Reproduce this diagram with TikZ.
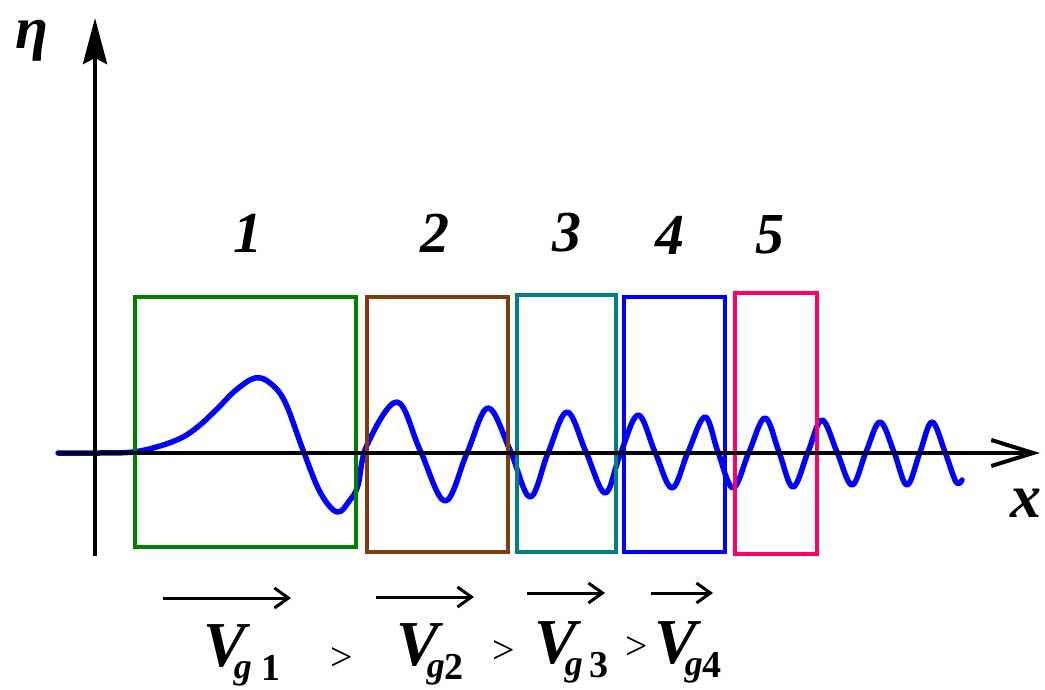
\documentclass[tikz,border=0pt]{standalone}
\usepackage{fontspec}
\setmainfont{Liberation Serif}
\usetikzlibrary{arrows.meta}
\definecolor{cgreen}{RGB}{0,128,0}
\definecolor{cbrown}{RGB}{128,60,10}
\definecolor{cteal}{RGB}{0,128,128}
\definecolor{cblue}{RGB}{0,0,255}
\definecolor{cpink}{RGB}{255,0,102}
\newcommand{\Vlab}[2]{{\fontsize{64}{64}\selectfont V}\kern-12pt\raisebox{-12pt}{\fontsize{36}{36}\selectfont g}\kern#2\raisebox{-14pt}{\fontsize{38}{38}\selectfont\upshape #1}}
\begin{document}
\begin{tikzpicture}[x=1pt,y=-1pt,
  box/.style={draw=#1, line width=4pt, inner sep=0pt, fill=none},
  num/.style={inner sep=0pt, font=\fontsize{58}{58}\selectfont\bfseries\itshape},
  vlab/.style={inner sep=0pt, anchor=base west, font=\bfseries\itshape},
  gt/.style={inner sep=0pt, font=\fontsize{40}{40}\selectfont},
  axis/.style={line width=4pt, black},
  varrow/.style={line width=3pt, -{Straight Barb[length=14pt,width=20pt,line width=3pt]}},
  wave/.style={line width=5.5pt, cblue, line join=round, line cap=round}]
\useasboundingbox (0,0) rectangle (1045,690);

% wave
\draw[wave] plot[smooth, tension=0.6] coordinates {
(58,453) (100,453) (133,452) (160,446) (183,437) (200,425) (218,408) (236,390) (255,378)
(270,383) (285,402) (303,450) (320,492) (337,512) (350,500) (358,485) (367,445) (397,402)
(420,450) (445,501) (467,453)
(488,408) (510,450) (530,497) (548,453) (567,412) (586,452) (605,493) (620,455)
(638,415) (655,452) (672,488) (688,452) (705,417) (718,452) (733,488) (749,452)
(765,418) (779,452) (793,487) (808,452) (822,420) (837,452) (852,485) (866,452)
(880,422) (894,452) (907,485) (920,452) (932,422) (945,452) (956,482) (962,480)};

% boxes
\node[box=cgreen, minimum width=221pt, minimum height=250pt] (b1) at (245.5,422) {};
\node[box=cbrown, minimum width=141pt, minimum height=255pt] (b2) at (437.5,424.5) {};
\node[box=cteal,  minimum width=99pt,  minimum height=257pt] (b3) at (566.5,423.5) {};
\node[box=cblue,  minimum width=101pt, minimum height=255pt] (b4) at (674.5,424.5) {};
\node[box=cpink,  minimum width=82pt,  minimum height=261pt] (b5) at (776,423.5) {};

% axes
\coordinate (xs) at (58,453);
\coordinate (xe) at (1040,453);
\coordinate (ys) at (95,556);
\coordinate (ye) at (95,18);
\draw[axis, -{Straight Barb[length=42pt,width=26pt,line width=4pt]}] (xs) -- (xe);
\draw[axis, line width=4.5pt, -{Stealth[length=46pt,width=24pt,inset=6pt]}] (ys) -- (ye);
\node[inner sep=0pt, anchor=base, font=\fontsize{60}{60}\selectfont\bfseries\itshape] (eta) at (32,49) {η};
\node[inner sep=0pt, anchor=base, font=\fontsize{62}{62}\selectfont\bfseries\itshape] (xl) at (1026,517) {x};

% numbers
\node[num] (n1) at (248,233) {1};
\node[num] (n2) at (435,233) {2};
\node[num] (n3) at (567,233) {3};
\node[num] (n4) at (670,235) {4};
\node[num] (n5) at (770,235) {5};

% velocity arrows
\coordinate (a1s) at (163,598); \coordinate (a1e) at (291,598);
\coordinate (a2s) at (376,597); \coordinate (a2e) at (474,597);
\coordinate (a3s) at (527,593); \coordinate (a3e) at (605,593);
\coordinate (a4s) at (651,593); \coordinate (a4e) at (713,593);
\draw[varrow] (a1s) -- (a1e);
\draw[varrow] (a2s) -- (a2e);
\draw[varrow] (a3s) -- (a3e);
\draw[varrow] (a4s) -- (a4e);

% velocity labels
\node[vlab] (v1) at (203,666) {\Vlab{1}{10pt}};
\node[vlab] (v2) at (396,665) {\Vlab{2}{0pt}};
\node[vlab] (v3) at (534,663) {\Vlab{3}{7pt}};
\node[vlab] (v4) at (654,663) {\Vlab{4}{0pt}};
\node[gt] (g1) at (342,659) {>};
\node[gt] (g2) at (504,652) {>};
\node[gt] (g3) at (637,648) {>};
\end{tikzpicture}
\end{document}
